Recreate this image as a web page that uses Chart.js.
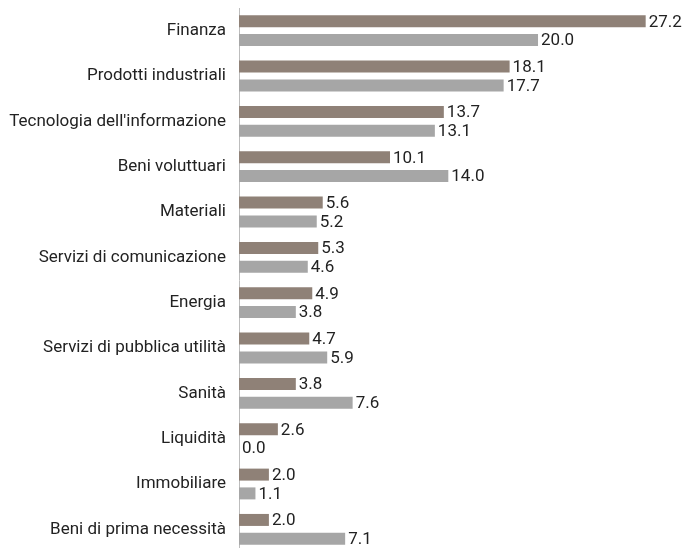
<!DOCTYPE html>
<html>
<head>
    <title>Settori</title>
    <script src="https://cdn.jsdelivr.net/npm/chart.js"></script>
    <style>
        html, body { margin: 0; padding: 0; background: #fff; overflow: hidden; }
        /* plot runs a few pixels past the bottom edge, as in the original */
        #wrap { width: 685px; height: 552px; }
    </style>
</head>
<body>
    <div id="wrap"><canvas id="sectorChart"></canvas></div>

    <script>
        // categories and values
        const categories = ['Finanza', 'Prodotti industriali', "Tecnologia dell'informazione", 'Beni voluttuari',
            'Materiali', 'Servizi di comunicazione', 'Energia', 'Servizi di pubblica utilità', 'Sanità',
            'Liquidità', 'Immobiliare', 'Beni di prima necessità'];
        const seriesA = [27.2, 18.1, 13.7, 10.1, 5.6, 5.3, 4.9, 4.7, 3.8, 2.6, 2.0, 2.0];
        const seriesB = [20.0, 17.7, 13.1, 14.0, 5.2, 4.6, 3.8, 5.9, 7.6, 0.0, 1.1, 7.1];

        const fontFamily = 'Roboto, "Liberation Sans", sans-serif';

        // draw the value next to the end of each bar
        const valueLabels = {
            id: 'valueLabels',
            afterDatasetsDraw(chart) {
                const ctx = chart.ctx;
                ctx.save();
                ctx.font = '17px ' + fontFamily;
                ctx.fillStyle = '#222';
                ctx.textAlign = 'left';
                ctx.textBaseline = 'middle';
                chart.data.datasets.forEach((ds, i) => {
                    chart.getDatasetMeta(i).data.forEach((bar, j) => {
                        ctx.fillText(ds.data[j].toFixed(1), bar.x + 3, bar.y + 1);
                    });
                });
                ctx.restore();
            }
        };

        new Chart(document.getElementById('sectorChart'), {
            type: 'bar',
            data: {
                labels: categories,
                datasets: [{
                    data: seriesA,
                    backgroundColor: '#8f8177',
                    barPercentage: 0.638,
                    categoryPercentage: 0.829
                }, {
                    data: seriesB,
                    backgroundColor: '#a6a6a6',
                    barPercentage: 0.638,
                    categoryPercentage: 0.829
                }]
            },
            options: {
                indexAxis: 'y',
                responsive: true,
                maintainAspectRatio: false,
                animation: false,
                layout: { padding: { top: 8, right: 0, bottom: 0, left: 0 } },
                plugins: {
                    legend: { display: false },
                    tooltip: { enabled: false }
                },
                scales: {
                    x: {
                        display: false,
                        min: 0,
                        max: 29.83
                    },
                    y: {
                        afterFit(scale) {
                            scale.width = 239;
                            scale.paddingTop = 0;
                            scale.paddingBottom = 0;
                        },
                        grid: { display: false, drawTicks: false },
                        border: { display: true, color: '#bdbdbd', width: 1 },
                        ticks: {
                            padding: 13,
                            color: '#222',
                            font: { family: fontFamily, size: 17 }
                        }
                    }
                }
            },
            plugins: [valueLabels]
        });
    </script>
</body>
</html>
